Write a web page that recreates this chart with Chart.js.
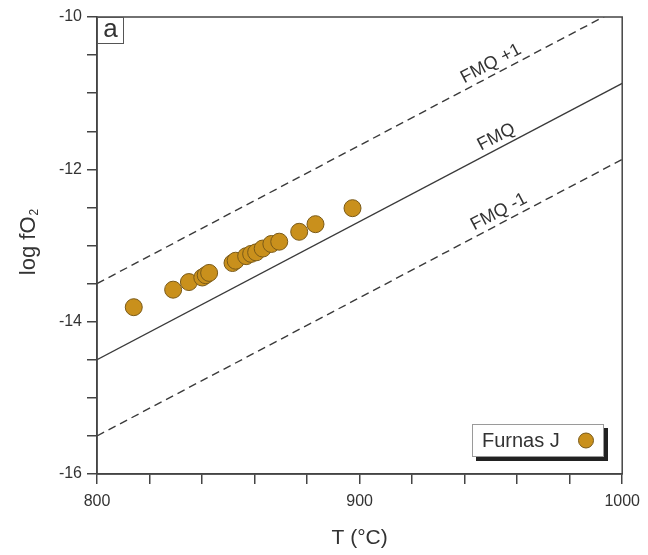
<!DOCTYPE html>
<html>
<head>
<meta charset="utf-8">
<script src="https://cdn.jsdelivr.net/npm/chart.js@4"></script>
<style>
    html, body { margin: 0; padding: 0; background: #ffffff; }
    #chartBox { width: 648px; height: 555px; }
</style>
</head>
<body>
<div id="chartBox"><canvas id="fo2Chart" width="648" height="555"></canvas></div>
<script>
// Furnas J samples
const tempC = [814.0, 829.0, 835.0, 840.1, 841.4, 842.7, 851.6, 852.8, 856.8, 858.7, 860.6, 863.1, 866.4, 869.4, 877.0, 883.2, 897.3];
const logFO2 = [-13.81, -13.58, -13.48, -13.42, -13.39, -13.36, -13.23, -13.20, -13.14, -13.11, -13.09, -13.04, -12.98, -12.95, -12.82, -12.72, -12.51];

// buffer lines, end points at 800 and 1000 °C
const bufferT = [800, 1000];
const fmqPlus1 = [-13.5, -9.87];
const fmq = [-14.5, -10.87];
const fmqMinus1 = [-15.5, -11.87];
const bufferNames = ['FMQ +1', 'FMQ', 'FMQ -1'];
const labelAtT = [952, 954, 955];

// tick labels
const xTickLabels = [800, 900, 1000];
const yTickLabels = [-16, -14, -12, -10];

const FONT = '"Liberation Sans", Arial, sans-serif';
const AXIS = '#444444';
const TEXT = '#333333';
const DOT = '#c9901c';

function toPoints(xs, ys) {
    return xs.map((x, i) => ({ x: x, y: ys[i] }));
}

function bufferDataset(values, dashed) {
    return {
        type: 'line',
        data: toPoints(bufferT, values),
        borderColor: '#3a3a3a',
        borderWidth: 1.4,
        borderDash: dashed ? [8, 5] : [],
        pointRadius: 0,
        fill: false,
        order: 2
    };
}

/**
 * Extra drawing: frame, panel letter, buffer labels, legend, axis titles
 */
const decorPlugin = {
    id: 'decor',
    afterDraw(chart) {
        const ctx = chart.ctx;
        const area = chart.chartArea;
        const xs = chart.scales.x;
        const ys = chart.scales.y;
        ctx.save();

        // box around the plot
        ctx.strokeStyle = AXIS;
        ctx.lineWidth = 1.5;
        ctx.strokeRect(area.left, area.top, area.right - area.left, area.bottom - area.top);

        // panel letter
        ctx.lineWidth = 1;
        ctx.strokeStyle = '#555555';
        ctx.strokeRect(area.left + 0.5, area.top + 0.5, 26, 26);
        ctx.fillStyle = TEXT;
        ctx.font = '26px ' + FONT;
        ctx.textAlign = 'center';
        ctx.textBaseline = 'alphabetic';
        ctx.fillText('a', area.left + 13.5, area.top + 20);

        // buffer labels along the lines
        const lines = [fmqPlus1, fmq, fmqMinus1];
        ctx.font = '18px ' + FONT;
        lines.forEach((vals, i) => {
            const x0 = xs.getPixelForValue(bufferT[0]);
            const x1 = xs.getPixelForValue(bufferT[1]);
            const y0 = ys.getPixelForValue(vals[0]);
            const y1 = ys.getPixelForValue(vals[1]);
            const angle = Math.atan2(y1 - y0, x1 - x0);
            const t = labelAtT[i];
            const v = vals[0] + (vals[1] - vals[0]) * (t - bufferT[0]) / (bufferT[1] - bufferT[0]);
            ctx.save();
            ctx.translate(xs.getPixelForValue(t), ys.getPixelForValue(v));
            ctx.rotate(angle);
            ctx.fillStyle = TEXT;
            ctx.textAlign = 'center';
            ctx.fillText(bufferNames[i], 0, -6);
            ctx.restore();
        });

        // legend box with shadow
        const lx = 472, ly = 424, lw = 132, lh = 33;
        ctx.fillStyle = '#222222';
        ctx.fillRect(lx + 4, ly + 4, lw, lh);
        ctx.fillStyle = '#ffffff';
        ctx.fillRect(lx, ly, lw, lh);
        ctx.strokeStyle = '#9a9a9a';
        ctx.lineWidth = 1;
        ctx.strokeRect(lx + 0.5, ly + 0.5, lw - 1, lh - 1);
        ctx.fillStyle = TEXT;
        ctx.font = '20px ' + FONT;
        ctx.textAlign = 'left';
        ctx.textBaseline = 'middle';
        ctx.fillText(chart.data.datasets[0].label, lx + 10, ly + lh / 2 + 1);
        ctx.beginPath();
        ctx.arc(lx + 114, ly + lh / 2, 7.5, 0, Math.PI * 2);
        ctx.fillStyle = DOT;
        ctx.fill();
        ctx.strokeStyle = '#7a5a18';
        ctx.stroke();

        // x title
        ctx.fillStyle = TEXT;
        ctx.font = '21px ' + FONT;
        ctx.textAlign = 'center';
        ctx.textBaseline = 'middle';
        ctx.fillText('T (°C)', (area.left + area.right) / 2, 538);

        // y title with subscript
        ctx.save();
        ctx.translate(35, (area.top + area.bottom) / 2 - 3);
        ctx.rotate(-Math.PI / 2);
        ctx.textAlign = 'left';
        ctx.textBaseline = 'alphabetic';
        ctx.font = '22px ' + FONT;
        const mainW = ctx.measureText('log fO').width;
        ctx.font = '12px ' + FONT;
        const subW = ctx.measureText('2').width;
        const start = -(mainW + subW) / 2;
        ctx.font = '22px ' + FONT;
        ctx.fillText('log fO', start, 0);
        ctx.font = '12px ' + FONT;
        ctx.fillText('2', start + mainW + 1, 3);
        ctx.restore();

        ctx.restore();
    }
};

function renderChart() {
    const ctx = document.getElementById('fo2Chart').getContext('2d');
    new Chart(ctx, {
        type: 'scatter',
        data: {
            datasets: [
                {
                    label: 'Furnas J',
                    data: toPoints(tempC, logFO2),
                    backgroundColor: DOT,
                    borderColor: '#7a5a18',
                    borderWidth: 1,
                    pointRadius: 8.5,
                    order: 1
                },
                bufferDataset(fmqPlus1, true),
                bufferDataset(fmq, false),
                bufferDataset(fmqMinus1, true)
            ]
        },
        options: {
            responsive: false,
            animation: false,
            events: [],
            layout: { padding: { top: 17, right: 24, left: 0, bottom: 0 } },
            plugins: {
                legend: { display: false },
                tooltip: { enabled: false }
            },
            scales: {
                x: {
                    type: 'linear',
                    min: 800,
                    max: 1000,
                    afterFit: (scale) => { scale.height = 81; },
                    border: { display: true, color: AXIS, width: 1.5 },
                    grid: { drawOnChartArea: false, drawTicks: true, tickLength: 10, color: AXIS, lineWidth: 1.5 },
                    ticks: {
                        stepSize: 20,
                        padding: 8,
                        maxRotation: 0,
                        autoSkip: false,
                        color: TEXT,
                        font: { family: FONT, size: 16 },
                        callback: (v) => xTickLabels.includes(v) ? String(v) : ''
                    }
                },
                y: {
                    type: 'linear',
                    min: -16,
                    max: -10,
                    afterFit: (scale) => { scale.width = 97; },
                    border: { display: true, color: AXIS, width: 1.5 },
                    grid: { drawOnChartArea: false, drawTicks: true, tickLength: 10, color: AXIS, lineWidth: 1.5 },
                    ticks: {
                        stepSize: 0.5,
                        padding: 5,
                        autoSkip: false,
                        color: TEXT,
                        font: { family: FONT, size: 16 },
                        callback: (v) => yTickLabels.includes(v) ? String(v) : ''
                    }
                }
            }
        },
        plugins: [decorPlugin]
    });
}

renderChart();
</script>
</body>
</html>
